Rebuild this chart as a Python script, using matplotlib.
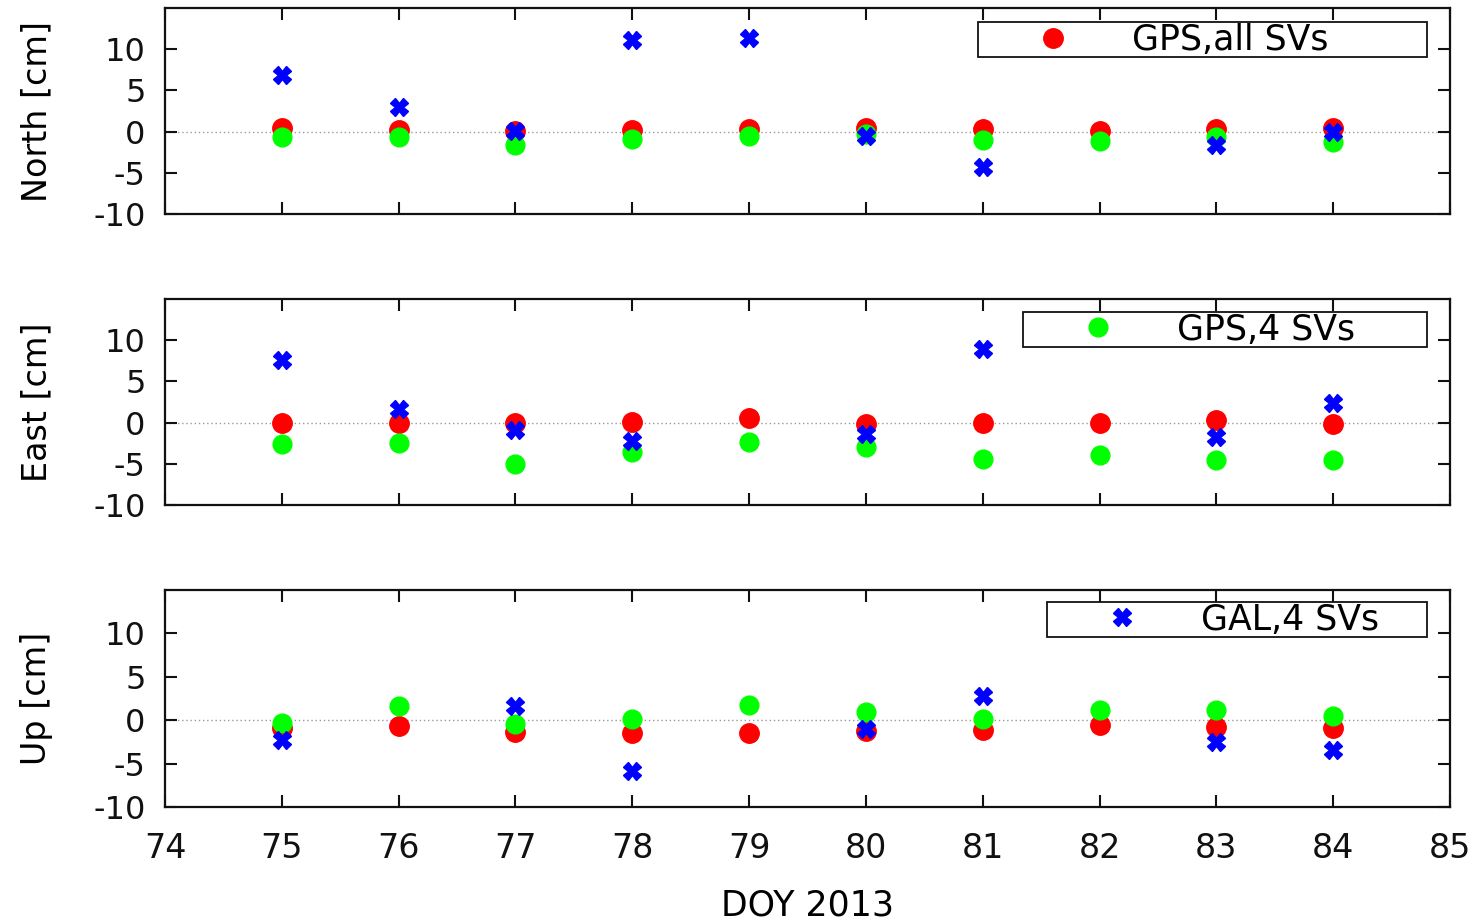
import matplotlib
matplotlib.use("Agg")
import matplotlib.pyplot as plt
import numpy as np

plt.rcParams['font.family'] = ['DejaVu Sans']
plt.rcParams['axes.unicode_minus'] = False

doy = [75, 76, 77, 78, 79, 80, 81, 82, 83, 84]

# North [cm]
north_gps_all = [0.4, 0.2, 0.1, 0.2, 0.3, 0.4, 0.3, 0.1, 0.3, 0.4]
north_gps_4 = [-0.7, -0.6, -1.6, -0.9, -0.5, -0.3, -1.0, -1.1, -0.7, -1.2]
north_gal_4 = [6.9, 3.0, 0.1, 11.1, 11.4, -0.5, -4.3, np.nan, -1.6, -0.1]

# East [cm]
east_gps_all = [0.0, -0.1, 0.0, 0.1, 0.5, -0.2, 0.0, 0.0, 0.3, -0.2]
east_gps_4 = [-2.6, -2.5, -5.0, -3.6, -2.3, -3.0, -4.4, -3.9, -4.5, -4.5]
east_gal_4 = [7.6, 1.7, -0.9, -2.2, np.nan, -1.4, 8.9, np.nan, -1.8, 2.4]

# Up [cm]
up_gps_all = [-0.9, -0.7, -1.4, -1.5, -1.5, -1.2, -1.1, -0.6, -0.8, -0.9]
up_gps_4 = [-0.3, 1.6, -0.4, 0.1, 1.7, 1.0, 0.1, 1.2, 1.2, 0.5]
up_gal_4 = [-2.3, np.nan, 1.6, -5.9, np.nan, -1.0, 2.8, np.nan, -2.5, -3.4]

labels = ['GPS,all SVs', 'GPS,4 SVs', 'GAL,4 SVs']
ylabels = ['North [cm]', 'East [cm]', 'Up [cm]']

fig = plt.figure(figsize=(14.8, 9.23), dpi=100)

# axes rectangles in figure fraction (left, bottom, width, height)
rects = [(0.1115, 0.7681, 0.8682, 0.2232),
         (0.1115, 0.4529, 0.8682, 0.2232),
         (0.1115, 0.1257, 0.8682, 0.2351)]
# legend boxes (x0, width, top) in axes fraction, one series per panel
leg_boxes = [(0.6327, 0.3494, 0.932),
             (0.6677, 0.3144, 0.937),
             (0.6864, 0.2957, 0.945)]

panels = [(north_gps_all, north_gps_4, north_gal_4),
          (east_gps_all, east_gps_4, east_gal_4),
          (up_gps_all, up_gps_4, up_gal_4)]

for i, (red, green, blue) in enumerate(panels):
    ax = fig.add_axes(rects[i])
    ax.axhline(0, color='#9a9a9a', ls=(0, (1, 2)), lw=1.0, zorder=1)
    h_red, = ax.plot(doy, red, ls='none', marker='o', ms=14, color='#ff0000',
                     mec='#ff0000', label=labels[0], zorder=3)
    h_green, = ax.plot(doy, green, ls='none', marker='o', ms=13.5, color='#00ff00',
                       mec='#00ff00', label=labels[1], zorder=4)
    h_blue, = ax.plot(doy, blue, ls='none', marker='X', ms=12.5, color='#0000ff',
                      mec='#0000ff', label=labels[2], zorder=5)

    ax.set_xlim(74, 85)
    ax.set_ylim(-10, 15)
    ax.set_xticks(np.arange(74, 86, 1))
    ax.set_yticks([-10, -5, 0, 5, 10])
    ax.tick_params(axis='both', direction='in', length=8.5, width=1.5,
                   top=True, right=True, colors='#111111')
    ax.tick_params(axis='y', labelsize=23, pad=14)
    ax.tick_params(axis='x', labelsize=24, pad=18)
    for sp in ax.spines.values():
        sp.set_linewidth(1.6)
        sp.set_color('#111111')

    ax.set_ylabel(ylabels[i], fontsize=24)
    ax.yaxis.set_label_coords(-0.087, 0.5)

    if i < 2:
        ax.tick_params(axis='x', labelbottom=False)
    else:
        ax.set_xlabel('DOY 2013', fontsize=25)
        ax.xaxis.set_label_coords(0.5, -0.375)

    handle = [h_red, h_green, h_blue][i]
    x0, w, top = leg_boxes[i]
    leg = ax.legend([handle], [labels[i]], loc='upper left',
                    bbox_to_anchor=(x0, 0, w, top), mode='expand',
                    borderaxespad=0, fontsize=25, numpoints=1,
                    handlelength=4.28, handletextpad=0.13, borderpad=0.02,
                    fancybox=False, framealpha=1)
    leg.get_frame().set_edgecolor('#111111')
    leg.get_frame().set_linewidth(1.3)

fig.savefig('out.png', dpi=100)
